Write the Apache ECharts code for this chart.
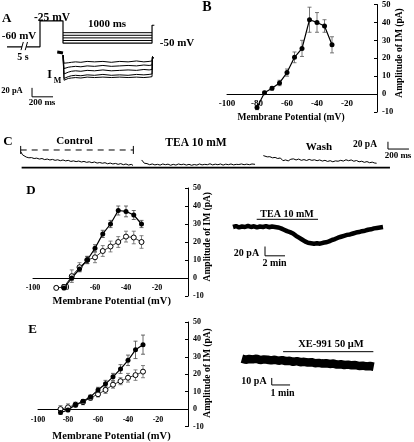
<!DOCTYPE html>
<html><head><meta charset="utf-8">
<script src="https://cdn.jsdelivr.net/npm/echarts@6/dist/echarts.min.js"></script>
<style>html,body{margin:0;padding:0;background:#fff}#c{width:414px;height:442px}</style>
</head><body><div id="c"></div>
<script>
// ---------- Panel A : voltage protocol (ms, mV) ----------
const holdT1 = [67, 210];
const holdV1 = [-60, -60];
const protoT = [250, 381, 381, 600, 600, 1448, 1448, 1470];
const protoV = [-60, -60, -25, -25, -55, -55, -31, -31];
const stepLevels = [-41, -44.5, -48, -51.5];
const stepT = [600, 1448];
const breakT = [[200, 222], [240, 262]];
const breakV = [-64.5, -53.5];
// Panel A : M-current traces (ms, pA)
const preT = [545, 560, 575, 590, 600];
const preI = [-1, 2, -2, 1, -3];
const imT = [600, 610, 625, 650, 680, 720, 770, 830, 900, 980, 1060, 1140, 1220, 1300, 1370, 1420, 1448, 1452, 1462];
const im1 = [-8, -26, -26, -25, -24, -23, -24, -22, -23, -22, -24, -22, -23, -21, -23, -22, -21, -12, -14];
const im2 = [-8, -38, -37, -35, -34, -33, -34, -32, -33, -31, -33, -32, -31, -32, -30, -31, -30, -12, -14];
const im3 = [-8, -50, -48, -46, -44, -43, -44, -42, -43, -41, -43, -42, -41, -42, -40, -41, -40, -12, -14];
const im4 = [-8, -60, -58, -56, -54, -53, -54, -52, -53, -51, -53, -52, -53, -51, -52, -51, -50, -12, -14];
const im5 = [-8, -64, -62, -60, -59, -58, -59, -57, -58, -57, -58, -57, -58, -57, -58, -57, -56, -12, -14];
const scaleAT = [305, 305, 505];
const scaleAI = [-81, -101, -101];

// ---------- Panel B : I-V (mV, pA) ----------
const bVolt = [-80, -75, -70, -65, -60, -55, -50, -45, -40, -35, -30];
const bAmp  = [-7.5, 0.8, 3.2, 6.2, 12, 20.5, 25.5, 41.5, 40, 38, 27.5];
const bErr  = [1.2, 0.8, 1, 1.5, 2, 3, 4.5, 7, 5.5, 3.5, 4.5];
const xTicks = [-100, -80, -60, -40, -20];
const yTicks = [-10, 0, 10, 20, 30, 40, 50];

// ---------- Panel C : traces (ms, pA) ----------
const cCtrlT = [197,205,215,230,250,275,300,325,350,375,400,425,450,475,500,525,550,575,600,625,650,675,700,725,750,775,800,825,850,875,900,925,950,975,1000,1025,1050,1075,1100,1125,1150,1175,1200,1225,1250,1267];
const cCtrl  = [44,40,35,31,29,27,27.5,25,26,23.5,25,22,23.5,21,22.5,20,21.5,19,21,18.5,20,17,18.5,16.5,18,15.5,17,14.5,16,13.5,15.5,12.5,14,12,13.5,10.5,12.5,10,11.5,9,11,8,10,7,9,6];
const cTeaT = [1349,1360,1375,1400,1425,1450,1475,1500,1525,1550,1575,1600,1625,1650,1675,1700,1725,1750,1775,1800,1825,1850,1875,1900,1925,1950,1975,2000,2025,2050,2075,2100,2125,2150,2175,2200,2225,2250,2275,2300,2325,2350,2375,2400,2429];
const cTea  = [21,16,12,11,8,10,7.5,9,7,10,8,9.5,6.5,9,7,10,8,9.5,7,9,6.5,8.5,7,10,7.5,9,8,10.5,7.5,9.5,8,10,7,9.5,8,10,7.5,9,8.5,10,8,9.5,8,10,9];
const cWashT = [2508,2520,2545,2570,2595,2620,2645,2670,2695,2720,2745,2770,2795,2820,2845,2870,2895,2920,2945,2970,2995,3020,3045,3070,3095,3120,3145,3170,3195,3220,3245,3270,3295,3320,3345,3370,3395,3420,3445,3470,3495,3520,3545,3570,3587];
const cWash  = [33,31,29.5,30,27,28,25,26.5,19,21,18.5,23,24,21,23.5,20,22,19.5,22.5,20,21.5,19,21,18,20,17,19,16,18.5,17.5,20,18,21.5,19,21,17.5,19.5,16,17.5,14.5,16.5,13.5,15,12.5,12];
const cBaseT = [206, 3714];
const cBracketT = [197, 1270];
const cBracketI = 48.4;
const cTickI = [59.5, 37.5];
const scaleCT = [3695, 3695, 3895];
const scaleCI = [71, 51, 51];

// ---------- Panel D : I-V control vs TEA ----------
const dVoltCtrl = [-80, -75, -70, -65, -60, -55, -50, -45, -40, -35, -30];
const dCtrl     = [-5.5, 0, 5, 10, 16.5, 24.5, 30, 37.5, 37, 35, 30];
const dCtrlErr  = [1, 1.5, 1.5, 2, 2, 2, 2, 2.5, 3, 2.5, 2];
const dVoltTea  = [-85, -80, -75, -70, -65, -60, -55, -50, -45, -40, -35, -30];
const dTea      = [-5.5, -5, 1, 6, 10, 11.5, 15, 17.5, 20, 23, 22.5, 20];
const dTeaErr   = [1, 1, 3.5, 2.5, 2, 3, 3, 3, 3, 3, 3.5, 3.5];
// TEA time course (min, pA)
const dtT = [0.3,0.6,0.9,1.2,1.5,1.8,2.1,2.4,2.7,3.0,3.3,3.6,3.9,4.2,4.5,4.8,5.1,5.4,5.7,6.0,6.3,6.6,6.9,7.2,7.5,7.8,8.1,8.4,8.7,9.0,9.3,9.6,9.9,10.2,10.5,10.8,11.1,11.4,11.7,12.0,12.3,12.6,12.9,13.2,13.5,13.8,14.1,14.4,14.7,15.0,15.3];
const dtI = [-1,1,-2,0,-1,1.5,-1,0.5,-2,0,-1,1,-1.5,0,-1,-2,-4,-7,-10,-12,-15,-20,-24,-28,-32,-35,-36,-37,-36,-37,-35,-34,-32,-29,-27,-24,-22,-20,-18,-17,-15,-13,-12,-10,-9,-7,-6,-4,-3,-2,-1];
const dtBarT = [2.67, 8.8];
const dtBarI = 15.5;
const scaleDT = [3.5, 3.5, 5.5];
const scaleDI = [-43, -63, -63];

// ---------- Panel E : I-V control vs XE-991 ----------
const eVolt    = [-85, -80, -75, -70, -65, -60, -55, -50, -45, -40, -35, -30];
const eCtrl    = [-2, -0.5, 2.5, 4.5, 7, 11, 14.5, 18.5, 23, 28, 34, 37];
const eCtrlErr = [1, 1, 1, 1, 1, 1.5, 2, 2, 2.5, 3, 5, 5.5];
const eXe      = [0, 1, 2.5, 4, 6.5, 8.5, 11, 14, 16, 18, 19.5, 21.5];
const eXeErr   = [2, 2, 1.5, 1.5, 1.5, 1.5, 2, 2, 2, 2.5, 3, 3.5];
// XE-991 time course (min, pA)
const etT = [0.65,0.85,1.05,1.25,1.45,1.65,1.85,2.05,2.25,2.45,2.65,2.85,3.05,3.25,3.45,3.65,3.85,4.05,4.25,4.45,4.65,4.85,5.05,5.25,5.45,5.65,5.85,6.05,6.25,6.45,6.65,6.85,7.05,7.25,7.45,7.65,7.85];
const etI = [-1,-2.5,-1.5,-2,-1,-3,-2,-2.5,-3.5,-2.5,-4,-3,-4.5,-4,-5.5,-4.5,-6,-5.5,-6.5,-6,-7.5,-7,-8,-7.5,-8.5,-8,-9.5,-9,-10,-9.5,-10.5,-10,-11.5,-11,-12,-11.5,-12.5];
const etBarT = [2.9, 7.83];
const etBarI = 9;
const scaleET = [2.28, 2.28, 3.28];
const scaleEI = [-28.6, -38.6, -38.6];

// ---------- helpers ----------
const FF = '"Liberation Serif", "Times New Roman", serif';
const zip = (a, b) => a.map((v, i) => [v, b[i]]);
const flat = (xs, y) => xs.map(x => [x, y]);
function ln(xi, yi, data, width, extra) {
  return Object.assign({
    type: 'line', xAxisIndex: xi, yAxisIndex: yi, data: data, symbol: 'none',
    lineStyle: { color: '#000', width: width }, silent: true, animation: false, z: 3
  }, extra || {});
}
function errBars(xi, yi, xs, ys, es, color) {
  return {
    type: 'custom', xAxisIndex: xi, yAxisIndex: yi, silent: true, animation: false, z: 2,
    data: xs.map((x, i) => [x, ys[i], es[i]]),
    renderItem: function (params, api) {
      const x = api.value(0), y = api.value(1), e = api.value(2);
      const p1 = api.coord([x, y + e]), p2 = api.coord([x, y - e]);
      const w = 2, st = { stroke: color, lineWidth: 0.8 };
      return { type: 'group', children: [
        { type: 'line', shape: { x1: p1[0], y1: p1[1], x2: p2[0], y2: p2[1] }, style: st },
        { type: 'line', shape: { x1: p1[0] - w, y1: p1[1], x2: p1[0] + w, y2: p1[1] }, style: st },
        { type: 'line', shape: { x1: p2[0] - w, y1: p2[1], x2: p2[0] + w, y2: p2[1] }, style: st }
      ]};
    }
  };
}
function pts(xi, yi, xs, ys, open) {
  return {
    type: 'line', xAxisIndex: xi, yAxisIndex: yi, data: zip(xs, ys), silent: true, animation: false, z: 4,
    symbol: 'circle', symbolSize: 5, showAllSymbol: true,
    lineStyle: { color: open ? '#222' : '#000', width: open ? 0.9 : 1.2 },
    itemStyle: open ? { color: '#fff', borderColor: '#000', borderWidth: 1 } : { color: '#000' }
  };
}
function hidX(g, min, max) { return { type: 'value', gridIndex: g, min: min, max: max, show: false }; }
function hidY(g, min, max) { return { type: 'value', gridIndex: g, min: min, max: max, show: false }; }
function ivX(g, fs, margin) {
  return { type: 'value', gridIndex: g, min: -100, max: 0, interval: 20,
    axisLine: { onZero: true, lineStyle: { color: '#000', width: 1 } },
    axisTick: { show: false }, splitLine: { show: false },
    axisLabel: { color: '#000', fontFamily: FF, fontWeight: 'bold', fontSize: fs, margin: margin,
      formatter: v => (xTicks.indexOf(v) >= 0 ? String(v) : '') } };
}
function ivY(g, fs) {
  return { type: 'value', gridIndex: g, min: yTicks[0], max: yTicks[yTicks.length - 1], interval: 10, position: 'right',
    axisLine: { show: true, onZero: false, lineStyle: { color: '#000', width: 1 } },
    axisTick: { show: true, inside: true, length: 3, lineStyle: { color: '#000' } }, splitLine: { show: false },
    axisLabel: { color: '#000', fontFamily: FF, fontWeight: 'bold', fontSize: fs, margin: 5 } };
}
function txt(x, y, s, size, opt) {
  opt = opt || {};
  return { type: 'text', x: x, y: y, rotation: opt.rot || 0, silent: true, z: 10,
    style: { text: s, fill: '#000', font: 'bold ' + size + 'px ' + FF,
      align: opt.align || 'center', verticalAlign: 'middle' } };
}

const chart = echarts.init(document.getElementById('c'), null, { renderer: 'canvas' });
const series = [];
// Panel A
series.push(ln(0, 0, zip(holdT1, holdV1), 1.2));
series.push(ln(0, 0, zip(protoT, protoV), 1.2));
stepLevels.forEach(v => series.push(ln(0, 0, flat(stepT, v), 1)));
breakT.forEach(b => series.push(ln(0, 0, zip(b, breakV), 1)));
series.push(ln(0, 1, zip(preT, preI), 3));
[im1, im2, im3, im4, im5].forEach(a => series.push(ln(0, 1, zip(imT, a), 1)));
series.push(ln(0, 1, zip(scaleAT, scaleAI), 1));
// Panel B
series.push(errBars(1, 2, bVolt, bAmp, bErr, '#555'));
series.push(pts(1, 2, bVolt, bAmp, false));
// Panel C
series.push(ln(2, 3, zip(cCtrlT, cCtrl), 1));
series.push(ln(2, 3, zip(cTeaT, cTea), 1));
series.push(ln(2, 3, zip(cWashT, cWash), 1));
series.push(ln(2, 3, flat(cBaseT, 0), 1.6));
series.push(ln(2, 3, flat(cBracketT, cBracketI), 1, { lineStyle: { color: '#000', width: 1, type: [6, 5] } }));
cBracketT.forEach(t => series.push(ln(2, 3, flat(cTickI, t).map(p => [p[1], p[0]]), 1)));
series.push(ln(2, 3, zip(scaleCT, scaleCI), 1));
// Panel D
series.push(errBars(3, 4, dVoltTea, dTea, dTeaErr, '#666'));
series.push(errBars(3, 4, dVoltCtrl, dCtrl, dCtrlErr, '#444'));
series.push(pts(3, 4, dVoltTea, dTea, true));
series.push(pts(3, 4, dVoltCtrl, dCtrl, false));
series.push(ln(4, 5, zip(dtT, dtI), 4.5));
series.push(ln(4, 5, flat(dtBarT, dtBarI), 1));
series.push(ln(4, 5, zip(scaleDT, scaleDI), 1));
// Panel E
series.push(errBars(5, 6, eVolt, eXe, eXeErr, '#666'));
series.push(errBars(5, 6, eVolt, eCtrl, eCtrlErr, '#444'));
series.push(pts(5, 6, eVolt, eXe, true));
series.push(pts(5, 6, eVolt, eCtrl, false));
series.push(ln(6, 7, zip(etT, etI), 8.5));
series.push(ln(6, 7, flat(etBarT, etBarI), 1));
series.push(ln(6, 7, zip(scaleET, scaleEI), 1));

const R = Math.PI / 2;
chart.setOption({
  animation: false,
  backgroundColor: '#fff',
  grid: [
    { left: 0, top: 0, width: 210, height: 130 },
    { left: 227, top: 3, width: 150, height: 109 },
    { left: 0, top: 125, width: 414, height: 55 },
    { left: 33, top: 188, width: 155, height: 108 },
    { left: 230, top: 180, width: 184, height: 100 },
    { left: 38, top: 322, width: 150, height: 104.5 },
    { left: 230, top: 330, width: 184, height: 100 }
  ],
  xAxis: [
    hidX(0, 0, 2000), ivX(1, 9, -13), hidX(2, 0, 3943), ivX(3, 8, -12.5), hidX(4, 0, 18.4), ivX(5, 8, -10.5), hidX(6, 0, 10.05)
  ],
  yAxis: [
    hidY(0, -172, 3), hidY(0, -175, 115), ivY(1, 8.5), hidY(2, -34, 117), ivY(3, 8), hidY(4, -115, 100), ivY(5, 8), hidY(6, -103, 40)
  ],
  series: series,
  graphic: [
    txt(2, 19, 'A', 13, { align: 'left' }),
    txt(52, 18, '-25 mV', 11.5),
    txt(107, 24, '1000 ms', 11),
    txt(19, 36, '-60 mV', 11),
    txt(177, 43, '-50 mV', 11),
    txt(23, 57, '5 s', 10),
    txt(49.5, 75, 'I', 12),
    txt(57.5, 80.5, 'M', 8),
    txt(12, 91, '20 pA', 8.5),
    txt(42, 103, '200 ms', 9),
    txt(207, 7, 'B', 14),
    txt(400, 53, 'Amplitude of IM (pA)', 9.5, { rot: R }),
    txt(291, 118, 'Membrane Potential (mV)', 9.5),
    txt(8, 141.5, 'C', 13),
    txt(74.5, 141, 'Control', 11),
    txt(196, 143, 'TEA 10 mM', 11.5),
    txt(319, 146.7, 'Wash', 11),
    txt(365, 145, '20 pA', 9.5),
    txt(398, 155.7, '200 ms', 9),
    txt(31, 191, 'D', 13),
    txt(208, 236.7, 'Amplitude of IM (pA)', 9.5, { rot: R }),
    txt(111.7, 301.7, 'Membrane Potential (mV)', 10.5),
    txt(287, 214, 'TEA 10 mM', 10),
    txt(246.5, 253.3, '20 pA', 10),
    txt(274.5, 263.3, '2 min', 10),
    txt(32.5, 329.5, 'E', 13),
    txt(208, 373, 'Amplitude of IM (pA)', 9.5, { rot: R }),
    txt(111.5, 436.7, 'Membrane Potential (mV)', 10.5),
    txt(331, 344, 'XE-991 50 μM', 10.5),
    txt(254, 381.7, '10 pA', 10),
    txt(282.5, 393.3, '1 min', 10)
  ]
});
</script></body></html>
